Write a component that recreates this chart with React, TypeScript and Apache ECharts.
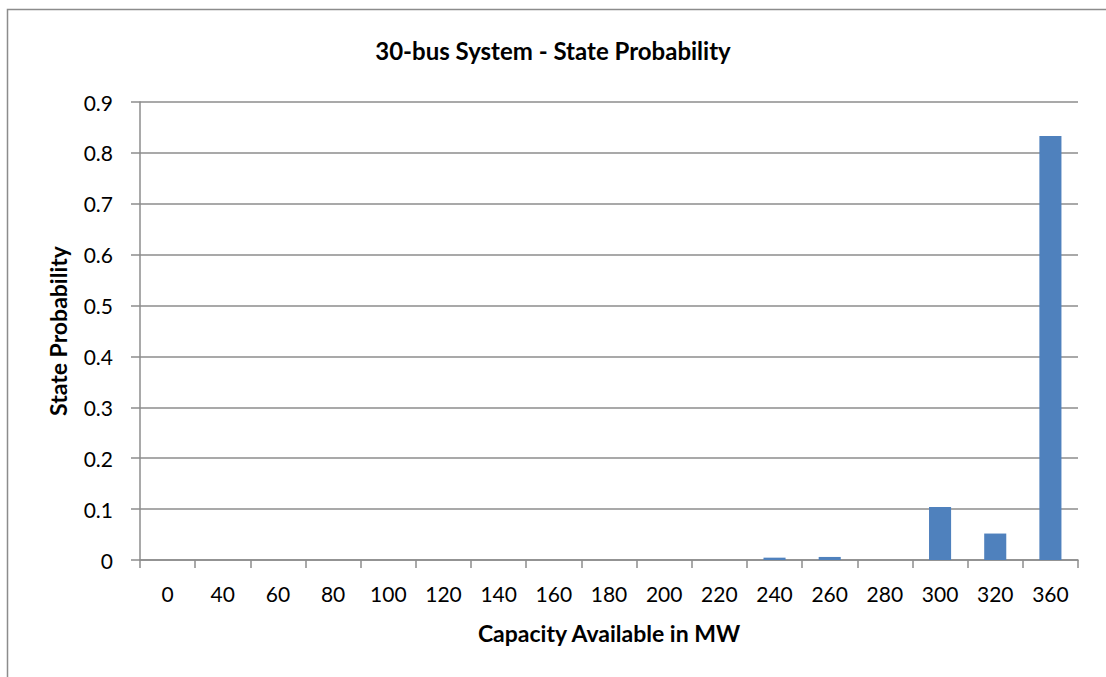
import React, { useEffect, useRef } from "react";
import * as echarts from "echarts";

const categories = ["0", "40", "60", "80", "100", "120", "140", "160", "180", "200", "220", "240", "260", "280", "300", "320", "360"];
const probabilities = [0, 0, 0, 0, 0, 0, 0, 0, 0, 0, 0, 0.0046, 0.006, 0, 0.104, 0.052, 0.833];
const yTicks = { min: 0, max: 0.9, interval: 0.1 };

const FONT = "Lato, 'Open Sans', sans-serif";

export default function App() {
  const ref = useRef<HTMLDivElement>(null);
  useEffect(() => {
    document.body.style.margin = "0";
    const chart = echarts.init(ref.current!, null, { renderer: "svg" });
    chart.setOption({
      animation: false,
      backgroundColor: "#fff",
      title: {
        text: "30-bus System - State Probability",
        left: "center",
        top: 33,
        textStyle: { fontFamily: FONT, fontSize: 24, fontWeight: "bold", color: "#000" },
      },
      grid: { left: 140, right: 28, top: 102, bottom: 117 },
      graphic: [
        {
          type: "rect",
          shape: { x: 7.5, y: 9.5, width: 1300, height: 1000 },
          style: { fill: "none", stroke: "#8c8c8c", lineWidth: 1.5 },
          silent: true,
        },
      ],
      xAxis: {
        type: "category",
        data: categories,
        name: "Capacity Available in MW",
        nameLocation: "middle",
        nameGap: 61,
        nameTextStyle: { fontFamily: FONT, fontSize: 23, fontWeight: "bold", color: "#000" },
        axisLine: { lineStyle: { color: "#8c8c8c", width: 1.5 } },
        axisTick: { show: true, alignWithLabel: false, length: 8, lineStyle: { color: "#8c8c8c", width: 1.5 } },
        axisLabel: { fontFamily: FONT, fontSize: 21, color: "#000", margin: 23, interval: 0 },
      },
      yAxis: {
        type: "value",
        min: yTicks.min,
        max: yTicks.max,
        interval: yTicks.interval,
        name: "State Probability",
        nameLocation: "middle",
        nameGap: 71,
        nameTextStyle: { fontFamily: FONT, fontSize: 23, fontWeight: "bold", color: "#000" },
        axisLine: { show: true, lineStyle: { color: "#8c8c8c", width: 1.5 } },
        axisTick: { show: true, length: 9, lineStyle: { color: "#8c8c8c", width: 1.5 } },
        axisLabel: { fontFamily: FONT, fontSize: 21, color: "#000", margin: 27 },
        splitLine: { show: true, lineStyle: { color: "#8c8c8c", width: 1.5 } },
      },
      series: [
        {
          type: "bar",
          data: probabilities,
          barWidth: "40%",
          itemStyle: { color: "#4f81bd" },
        },
      ],
    });
    return () => chart.dispose();
  }, []);
  return <div ref={ref} style={{ width: 1106, height: 677 }} />;
}
